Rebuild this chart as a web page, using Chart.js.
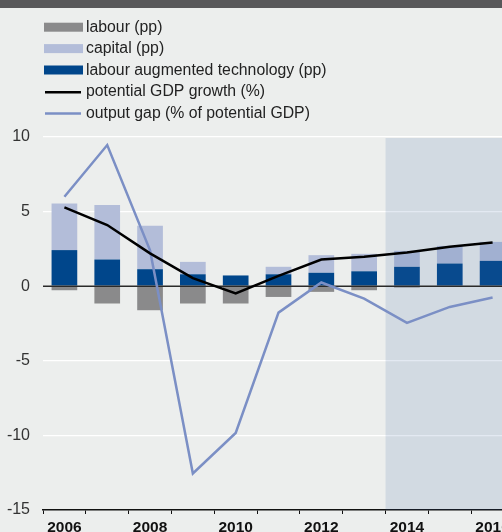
<!DOCTYPE html>
<html>
<head>
<meta charset="utf-8">
<script src="https://cdn.jsdelivr.net/npm/chart.js@4.4.1/dist/chart.umd.min.js"></script>
<style>
  html, body { margin: 0; padding: 0; background: #eceeed; overflow: hidden; width: 502px; height: 532px; }
  #wrap { position: absolute; left: 0; top: 0; width: 520px; height: 545px; }
  #band { position: absolute; left: 0; top: 0; width: 502px; height: 8px; background: #58585a; z-index: 2; }
</style>
</head>
<body>
<div id="band"></div>
<div id="wrap"><canvas id="c" width="520" height="545"></canvas></div>
<script>
const years = ['2006','2007','2008','2009','2010','2011','2012','2013','2014','2015','2016'];
const labour = [-0.27, -1.16, -1.61, -1.16, -1.16, -0.72, -0.38, -0.27, -0.09, 0.0, 0.0];
const capital = [3.13, 3.65, 2.91, 0.83, 0.0, 0.50, 1.18, 1.17, 1.07, 1.18, 1.27];
const technology = [2.42, 1.79, 1.14, 0.80, 0.72, 0.80, 0.90, 1.00, 1.30, 1.52, 1.70];
const potentialGrowth = [5.28, 4.10, 2.20, 0.54, -0.49, 0.69, 1.79, 1.97, 2.26, 2.64, 2.93];
const outputGap = [6.0, 9.46, 2.4, -12.55, -9.84, -1.77, 0.25, -0.83, -2.46, -1.39, -0.76];
const yTicks = [10, 5, 0, -5, -10, -15];
const forecastStart = '2014';

const FONT = '"Liberation Sans", Arial, Helvetica, sans-serif';

const legendItems = [
  { label: 'labour (pp)', color: '#8a8a8b', type: 'box' },
  { label: 'capital (pp)', color: '#b3bdd9', type: 'box' },
  { label: 'labour augmented technology (pp)', color: '#00468b', type: 'box' },
  { label: 'potential GDP growth (%)', color: '#000000', type: 'line' },
  { label: 'output gap (% of potential GDP)', color: '#7b8fc5', type: 'line' }
];

let overlayDone = false;
const customPlugin = {
  id: 'custom',
  beforeDraw(chart) { overlayDone = false; },
  beforeDatasetDraw(chart, args) {
    if (overlayDone || args.meta.type !== 'line') return;
    overlayDone = true;
    const ctx = chart.ctx, x = chart.scales.x, y = chart.scales.y, a = chart.chartArea;
    const i = years.indexOf(forecastStart);
    const xs = (x.getPixelForValue(i - 1) + x.getPixelForValue(i)) / 2;
    ctx.save();
    ctx.fillStyle = 'rgba(55,100,160,0.14)';
    ctx.fillRect(xs, a.top + 1, a.right - xs, a.bottom - a.top - 1);
    const y0 = y.getPixelForValue(0);
    ctx.strokeStyle = '#2a2a2a';
    ctx.lineWidth = 1.5;
    ctx.beginPath();
    ctx.moveTo(a.left, y0);
    ctx.lineTo(a.right, y0);
    ctx.stroke();
    ctx.restore();
  },
  afterDraw(chart) {
    const ctx = chart.ctx;
    ctx.save();
    ctx.font = '15.8px ' + FONT;
    ctx.textBaseline = 'alphabetic';
    legendItems.forEach((it, k) => {
      const base = 32 + k * 21.4;
      if (it.type === 'box') {
        ctx.fillStyle = it.color;
        ctx.fillRect(44, base - 9.3, 39, 9);
      } else {
        ctx.strokeStyle = it.color;
        ctx.lineWidth = 2.5;
        ctx.beginPath();
        ctx.moveTo(45, base - 4);
        ctx.lineTo(81, base - 4);
        ctx.stroke();
      }
      ctx.fillStyle = '#222';
      ctx.fillText(it.label, 86, base);
    });
    ctx.restore();
  }
};

const barCommon = { type: 'bar', order: 2, categoryPercentage: 1, barPercentage: 0.6, borderWidth: 0, stack: 'bars' };

new Chart(document.getElementById('c'), {
  data: {
    labels: years,
    datasets: [
      Object.assign({ label: 'labour augmented technology (pp)', data: technology, backgroundColor: '#00468b' }, barCommon),
      Object.assign({ label: 'capital (pp)', data: capital, backgroundColor: '#b3bdd9' }, barCommon),
      Object.assign({ label: 'labour (pp)', data: labour, backgroundColor: '#8a8a8b' }, barCommon),
      { type: 'line', label: 'output gap (% of potential GDP)', data: outputGap, stack: 'gap', borderColor: '#7b8fc5', borderWidth: 2.5, pointRadius: 0, tension: 0, order: 1, fill: false },
      { type: 'line', label: 'potential GDP growth (%)', data: potentialGrowth, stack: 'pot', borderColor: '#000000', borderWidth: 2.5, pointRadius: 0, tension: 0, order: 0, fill: false }
    ]
  },
  options: {
    responsive: false,
    animation: false,
    layout: { padding: { top: 137, right: 6, left: 0, bottom: 0 } },
    plugins: { legend: { display: false }, tooltip: { enabled: false } },
    scales: {
      x: {
        stacked: true,
        offset: true,
        grid: { display: true, offset: true, drawOnChartArea: false, drawTicks: true, tickLength: 4, color: '#111', lineWidth: 1 },
        border: { display: true, color: '#111', width: 1.5 },
        ticks: {
          autoSkip: false, maxRotation: 0, minRotation: 0, padding: 4,
          color: '#111', font: { family: FONT, size: 15.5, weight: 'bold' },
          callback: (v, i) => (i % 2 === 0 ? years[i] : '')
        },
        afterFit: (s) => { s.height = 35; }
      },
      y: {
        stacked: true,
        min: -15, max: 10,
        afterBuildTicks: (s) => { s.ticks = yTicks.map(v => ({ value: v })); },
        grid: {
          drawTicks: false,
          color: (c) => (c.tick && (c.tick.value === 0 || c.tick.value === -15) ? 'rgba(0,0,0,0)' : '#ffffff'),
          lineWidth: 1.3
        },
        border: { display: false },
        ticks: { padding: 13, color: '#333', font: { family: FONT, size: 16 } },
        afterFit: (s) => { s.width = 43; }
      }
    }
  },
  plugins: [customPlugin]
});
</script>
</body>
</html>
